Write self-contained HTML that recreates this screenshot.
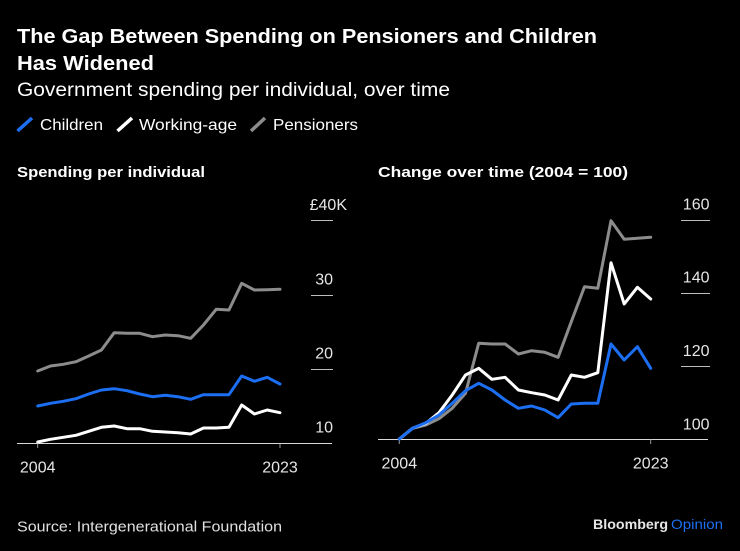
<!DOCTYPE html>
<html><head><meta charset="utf-8"><style>
html,body{margin:0;padding:0;background:#000;}
svg{display:block;}
text{font-family:"Liberation Sans",Arial,sans-serif;}
</style></head><body>
<svg width="740" height="551" viewBox="0 0 740 551" xmlns="http://www.w3.org/2000/svg">
<rect width="740" height="551" fill="#000"/>
<text x="17" y="43" font-size="20" font-weight="bold" fill="#fff" textLength="580" lengthAdjust="spacingAndGlyphs">The Gap Between Spending on Pensioners and Children</text>
<text x="17" y="70" font-size="20" font-weight="bold" fill="#fff" textLength="137" lengthAdjust="spacingAndGlyphs">Has Widened</text>
<text x="17" y="96" font-size="19" fill="#fff" textLength="433" lengthAdjust="spacingAndGlyphs">Government spending per individual, over time</text>
<line x1="17.5" y1="131" x2="32" y2="118" stroke="#1c6ef2" stroke-width="3.5"/>
<text x="40" y="130" font-size="16" fill="#fff" textLength="63" lengthAdjust="spacingAndGlyphs">Children</text>
<line x1="117.5" y1="131" x2="132" y2="118" stroke="#fff" stroke-width="3.5"/>
<text x="139" y="130" font-size="16" fill="#fff" textLength="98" lengthAdjust="spacingAndGlyphs">Working-age</text>
<line x1="251" y1="131" x2="265" y2="118" stroke="#8c8c8c" stroke-width="3.5"/>
<text x="273" y="130" font-size="16" fill="#fff" textLength="85" lengthAdjust="spacingAndGlyphs">Pensioners</text>
<text x="17" y="177" font-size="15" font-weight="bold" fill="#fff" textLength="188" lengthAdjust="spacingAndGlyphs">Spending per individual</text>
<text x="378" y="177" font-size="15" font-weight="bold" fill="#fff" textLength="250" lengthAdjust="spacingAndGlyphs">Change over time (2004 = 100)</text>

<!-- Left chart -->
<g stroke="#bdbdbd" stroke-width="1">
<line x1="311" y1="220.5" x2="333" y2="220.5"/>
<line x1="311" y1="295.5" x2="333" y2="295.5"/>
<line x1="311" y1="369.5" x2="333" y2="369.5"/>
</g>
<line x1="17" y1="443.5" x2="332" y2="443.5" stroke="#d9d9d9" stroke-width="1"/>
<line x1="37.7" y1="443.5" x2="37.7" y2="448" stroke="#999" stroke-width="1"/>
<line x1="280" y1="443.5" x2="280" y2="448" stroke="#999" stroke-width="1"/>
<g font-size="16" fill="#e6e6e6" text-anchor="end">
<text x="347" y="210">£40K</text>
<text x="333" y="284.5">30</text>
<text x="333" y="358.5">20</text>
<text x="333" y="432.5">10</text>
</g>
<g font-size="16" fill="#e6e6e6" text-anchor="middle">
<text x="37.7" y="472.5">2004</text>
<text x="280" y="472.5">2023</text>
</g>
<g fill="none" stroke-width="3" stroke-linejoin="round" stroke-linecap="round">
<polyline stroke="#8c8c8c" points="37.7,371 50.45,366 63.2,364.3 75.95,361.7 88.7,356 101.45,350 114.2,332.7 126.95,333.3 139.7,333.3 152.45,336.7 165.2,335 177.95,335.7 190.7,338.3 203.45,325 216.2,309.3 228.95,310 241.7,283.3 254.45,290 267.2,289.7 279.95,289.3"/>
<polyline stroke="#ffffff" points="37.7,442 50.45,439.3 63.2,437.3 75.95,435.3 88.7,431.3 101.45,427.3 114.2,426 126.95,428.7 139.7,428.7 152.45,431.3 165.2,432 177.95,432.7 190.7,434 203.45,428 216.2,428 228.95,427.3 241.7,405 254.45,414 267.2,410 279.95,412.7"/>
<polyline stroke="#1c6ef2" points="37.7,406 50.45,403.3 63.2,401.3 75.95,398.7 88.7,394 101.45,390 114.2,388.7 126.95,390.7 139.7,394 152.45,396.7 165.2,395.3 177.95,396.7 190.7,399.3 203.45,394.7 216.2,394.7 228.95,394.7 241.7,376 254.45,381.3 267.2,377.3 279.95,384"/>
</g>

<!-- Right chart -->
<g stroke="#bdbdbd" stroke-width="1">
<line x1="681" y1="220.5" x2="710" y2="220.5"/>
<line x1="681" y1="293.5" x2="710" y2="293.5"/>
<line x1="681" y1="366.5" x2="710" y2="366.5"/>
</g>
<line x1="378" y1="439.5" x2="708" y2="439.5" stroke="#d9d9d9" stroke-width="1"/>
<line x1="399.3" y1="439.5" x2="399.3" y2="444" stroke="#999" stroke-width="1"/>
<line x1="650.7" y1="439.5" x2="650.7" y2="444" stroke="#999" stroke-width="1"/>
<g font-size="16" fill="#e6e6e6" text-anchor="end">
<text x="709.5" y="209.5">160</text>
<text x="709.5" y="282.5">140</text>
<text x="709.5" y="356">120</text>
<text x="709.5" y="429.5">100</text>
</g>
<g font-size="16" fill="#e6e6e6" text-anchor="middle">
<text x="399.3" y="468.5">2004</text>
<text x="650.7" y="468.5">2023</text>
</g>
<g fill="none" stroke-width="3" stroke-linejoin="round" stroke-linecap="round">
<polyline stroke="#8c8c8c" points="399.3,439 412.5,428.3 425.8,425 439,418.7 452.2,408.3 465.5,393.3 478.7,343.3 491.9,344 505.1,344 518.4,354 531.6,350.7 544.8,352.3 558.1,357.3 571.3,321.7 584.5,286.7 597.8,288.3 611,220.7 624.2,239.3 637.4,238.3 650.7,237.3"/>
<polyline stroke="#ffffff" points="399.3,439 412.5,428.3 425.8,423.3 439,412.7 452.2,395 465.5,375 478.7,368.3 491.9,379.3 505.1,377.3 518.4,390 531.6,392.7 544.8,395 558.1,400 571.3,375 584.5,377.3 597.8,372.7 611,262.7 624.2,304 637.4,287.3 650.7,299"/>
<polyline stroke="#1c6ef2" points="399.3,439 412.5,428.3 425.8,422.7 439,415 452.2,403.3 465.5,390.7 478.7,383.3 491.9,390 505.1,400 518.4,408.3 531.6,406 544.8,410 558.1,417.7 571.3,404 584.5,403.3 597.8,403.3 611,344 624.2,360 637.4,346.7 650.7,368.3"/>
</g>

<!-- Footer -->
<text x="17" y="531.5" font-size="15" fill="#e0e0e0" textLength="265" lengthAdjust="spacingAndGlyphs">Source: Intergenerational Foundation</text>
<text x="593" y="529" font-size="14" font-weight="bold" fill="#e6e6e6" textLength="75" lengthAdjust="spacingAndGlyphs">Bloomberg</text>
<text x="671" y="529" font-size="14" fill="#1c6ef2" textLength="52" lengthAdjust="spacingAndGlyphs">Opinion</text>
</svg>
</body></html>
